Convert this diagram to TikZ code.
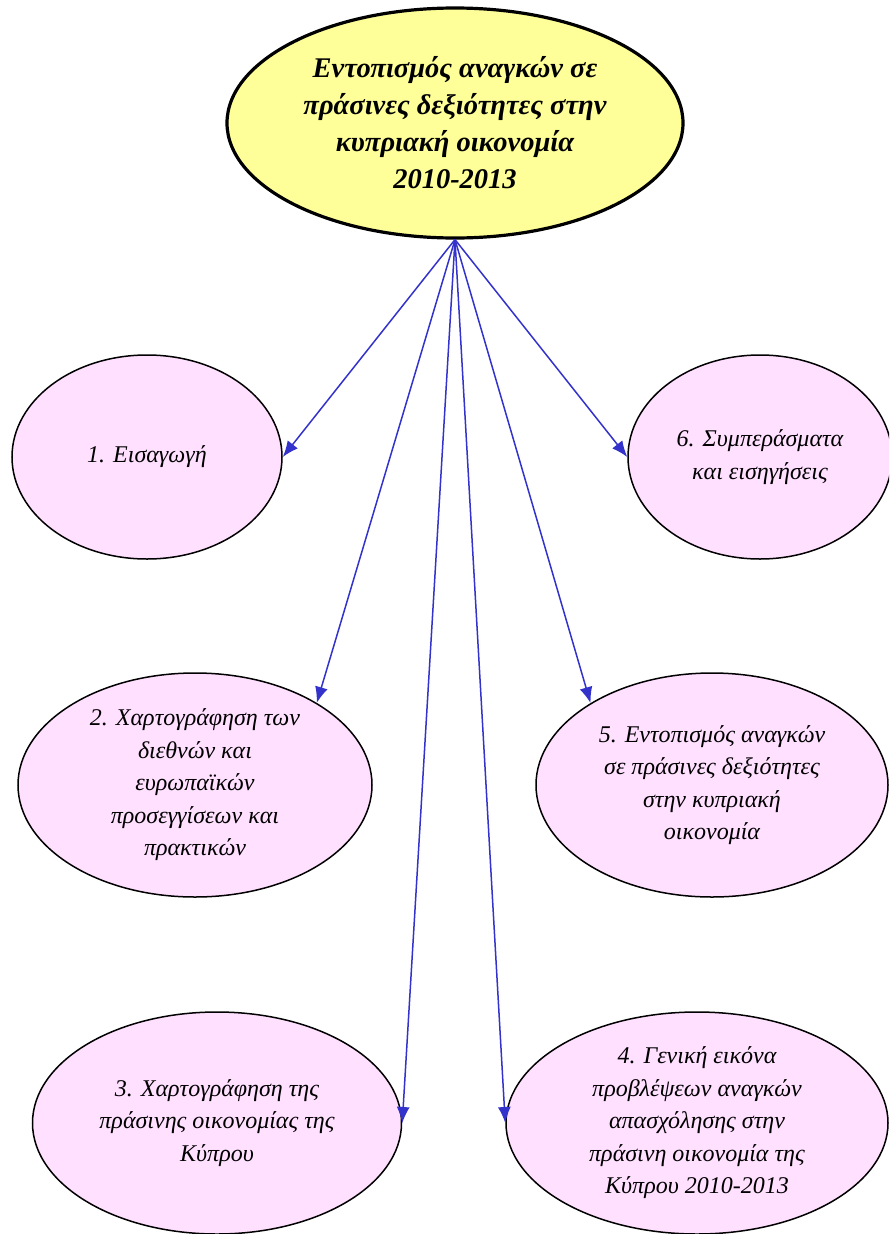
\documentclass[tikz,border=0pt]{standalone}
\usepackage{fontspec}
\setmainfont{Liberation Serif}
\usetikzlibrary{shapes.geometric,arrows.meta}
\definecolor{pinkfill}{HTML}{FFE0FF}
\definecolor{yellowfill}{HTML}{FFFF99}
\definecolor{arrowblue}{HTML}{3333CC}
\tikzset{
  topnode/.style={ellipse, draw=black, line width=3.2pt, fill=yellowfill, inner sep=0pt,
    align=center, font=\fontsize{28.5}{37}\selectfont\bfseries\itshape},
  subnode/.style={ellipse, draw=black, line width=1.5pt, fill=pinkfill, inner sep=0pt,
    align=center, font=\fontsize{24}{32.5}\selectfont\itshape},
  arr/.style={draw=arrowblue, line width=1.5pt, -{Latex[length=16pt,width=13pt]}}
}
\begin{document}
\begin{tikzpicture}[x=1pt,y=-1pt]
\useasboundingbox (0,0) rectangle (889,1234);
\clip (0,0) rectangle (889,1234);
\node[topnode, minimum width=456pt, minimum height=230pt] (top) at (455,123)
  {Εντοπισμός αναγκών σε\\πράσινες δεξιότητες στην\\κυπριακή οικονομία\\2010-2013};
\node[subnode, minimum width=270pt, minimum height=204pt] (e1) at (147,457) {1. Εισαγωγή};
\node[subnode, minimum width=264pt, minimum height=204pt] (e6) at (760,457) {6. Συμπεράσματα\\και εισηγήσεις};
\node[subnode, minimum width=354pt, minimum height=224pt] (e2) at (195,785)
  {2. Χαρτογράφηση των\\διεθνών και\\ευρωπαϊκών\\προσεγγίσεων και\\πρακτικών};
\node[subnode, minimum width=352pt, minimum height=224pt] (e5) at (712,785)
  {5. Εντοπισμός αναγκών\\σε πράσινες δεξιότητες\\στην κυπριακή\\οικονομία};
\node[subnode, minimum width=369pt, minimum height=222pt] (e3) at (217,1123)
  {3. Χαρτογράφηση της\\πράσινης οικονομίας της\\Κύπρου};
\node[subnode, minimum width=382pt, minimum height=222pt] (e4) at (697,1123)
  {4. Γενική εικόνα\\προβλέψεων αναγκών\\απασχόλησης στην\\πράσινη οικονομία της\\Κύπρου 2010-2013};
\draw[arr] (top.south) -- (e1.east);
\draw[arr] (top.south) -- (e6.west);
\draw[arr] (top.south) -- (e2.34);
\draw[arr] (top.south) -- (e5.146);
\draw[arr] (top.south) -- (e3.east);
\draw[arr] (top.south) -- (e4.west);
\end{tikzpicture}
\end{document}
